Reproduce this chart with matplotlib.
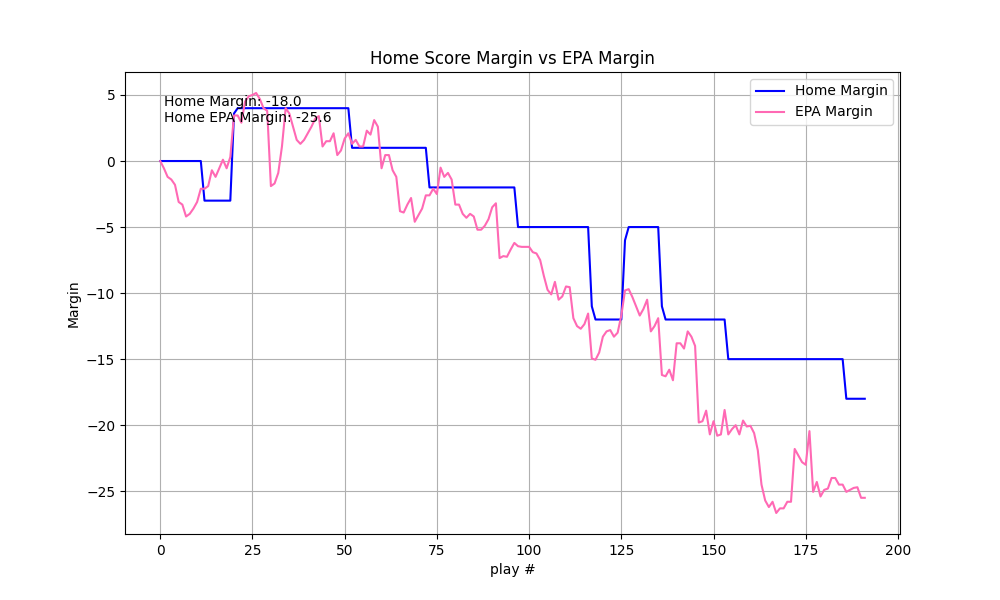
import matplotlib
matplotlib.use("Agg")
import matplotlib.pyplot as plt

# Home score margin by play (0..191)
home_margin = (
    [0] * 12 +          # 0-11
    [-3] * 8 +          # 12-19
    [3.6] +             # 20
    [4] * 31 +          # 21-51
    [1] * 21 +          # 52-72
    [-2] * 24 +         # 73-96
    [-5] * 20 +         # 97-116
    [-11] +             # 117
    [-12] * 8 +         # 118-125
    [-6] +              # 126
    [-5] * 9 +          # 127-135
    [-11] +             # 136
    [-12] * 17 +        # 137-153
    [-15] * 32 +        # 154-185
    [-18] * 6           # 186-191
)

epa_margin = [
    0.0, -0.55, -1.2, -1.4, -1.8, -3.1, -3.3, -4.2, -4.0, -3.6,
    -3.1, -2.1, -2.1, -1.9, -0.7, -1.2, -0.55, 0.1, -0.55, 0.3,
    3.45, 3.45, 2.9, 4.5, 4.9, 5.0, 5.15, 4.7, 4.0, 3.8,
    -1.9, -1.7, -0.9, 1.1, 4.0, 3.6, 2.6, 1.6, 1.3, 1.6,
    2.1, 2.6, 3.2, 3.4, 1.1, 1.5, 1.5, 2.1, 0.45, 0.8,
    1.7, 2.1, 1.3, 1.6, 1.1, 1.1, 2.3, 2.0, 3.1, 2.6,
    -0.55, 0.45, 0.45, -0.7, -1.2, -3.8, -3.9, -3.3, -2.8, -4.6,
    -4.1, -3.6, -2.6, -2.6, -2.1, -2.5, -0.5, -1.2, -0.9, -1.4,
    -3.3, -3.3, -4.0, -4.3, -4.0, -4.2, -5.2, -5.2, -4.9, -4.4,
    -3.5, -3.2, -7.35, -7.2, -7.25, -6.7, -6.2, -6.45, -6.5, -6.5,
    -6.5, -6.9, -7.0, -7.5, -8.7, -9.75, -10.1, -9.15, -10.5, -10.25,
    -9.5, -9.55, -11.9, -12.5, -12.7, -12.35, -11.55, -14.95, -15.05, -14.5,
    -13.3, -12.9, -12.8, -13.3, -13.0, -11.7, -9.8, -9.7, -10.3, -11.0,
    -11.7, -11.2, -10.5, -12.9, -12.5, -11.9, -16.2, -16.3, -15.8, -16.6,
    -13.8, -13.8, -14.2, -12.9, -13.3, -14.0, -19.8, -19.7, -18.9, -20.7,
    -19.7, -20.8, -20.7, -18.85, -20.7, -20.3, -20.0, -20.7, -19.65, -20.1,
    -20.05, -20.6, -21.9, -24.5, -25.7, -26.2, -25.8, -26.65, -26.3, -26.3,
    -25.8, -25.8, -21.8, -22.3, -22.8, -23.0, -20.45, -25.05, -24.3, -25.4,
    -24.9, -24.8, -24.0, -24.0, -24.5, -24.5, -25.05, -24.9, -24.75, -24.7,
    -25.5, -25.5,
]

plays = list(range(len(home_margin)))

fig, ax = plt.subplots(figsize=(10, 6), dpi=100)
ax.plot(plays, home_margin, color="blue", label="Home Margin")
ax.plot(plays[:len(epa_margin)], epa_margin, color="hotpink", label="EPA Margin")
ax.set_title("Home Score Margin vs EPA Margin")
ax.set_xlabel("play #")
ax.set_ylabel("Margin")
ax.grid(True)
ax.legend(loc="upper right")
ax.text(0.05, 0.95, "Home Margin: -18.0\nHome EPA Margin: -25.6",
        transform=ax.transAxes, va="top", ha="left")
fig.savefig("out.png")
